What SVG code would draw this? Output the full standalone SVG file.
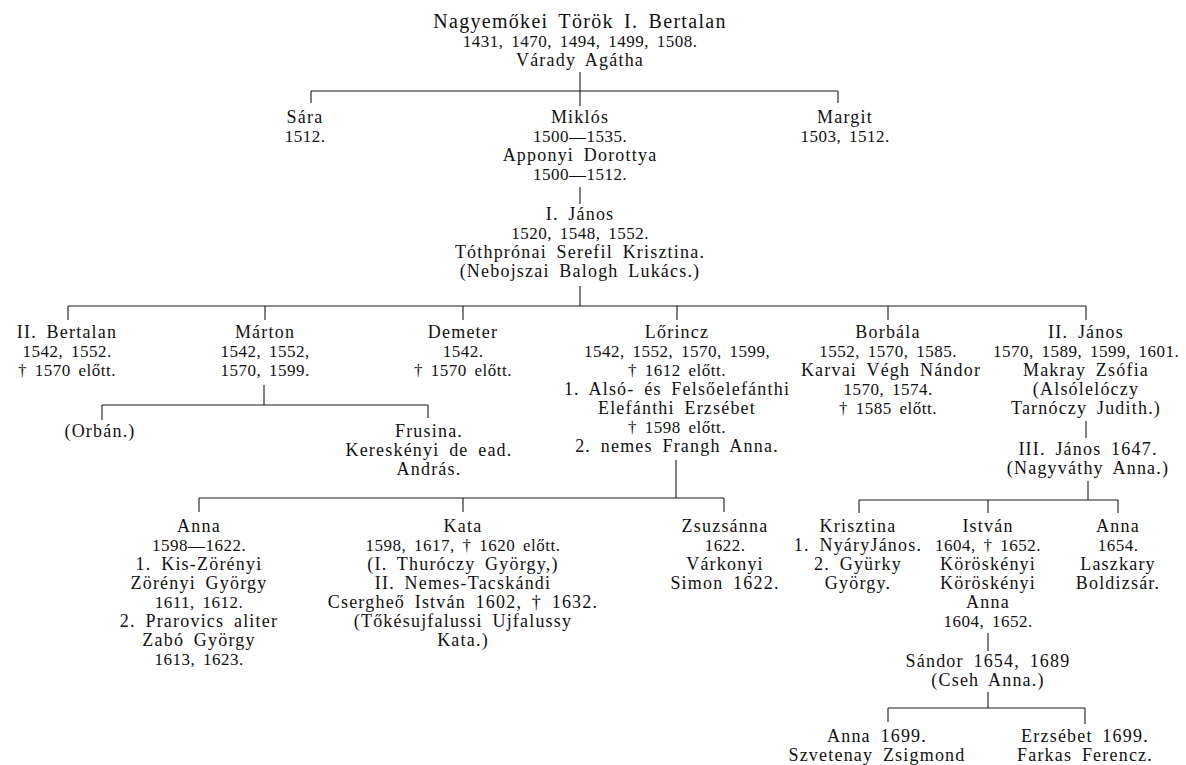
<svg xmlns="http://www.w3.org/2000/svg" width="1186" height="765" viewBox="0 0 1186 765">
<style>
text{font-family:"Liberation Serif","Times New Roman",serif;font-size:18px;fill:#111;text-anchor:middle;letter-spacing:1.2px;word-spacing:4px}
text.y{font-size:17px;letter-spacing:0.5px;word-spacing:3px}
text.t{font-size:20px;letter-spacing:1.3px;word-spacing:4px}
.c path{stroke:#1a1a1a;stroke-width:1.1;fill:none}
</style>
<rect width="1186" height="765" fill="#fff"/>
<g class="c" id="connectors">
<path d="M580,72V91M311,91H838M311,91V103M580,91V106M838,91V103"/>
<path d="M580,187V204"/>
<path d="M580,286V306M68,306H1086M68,306V320M265,306V320M463,306V320M677,306V320M888,306V320M1086,306V320"/>
<path d="M264,385V405M102,405H428M102,405V420M428,405V418"/>
<path d="M676,460V498M199,498H724M199,498V512M463,498V512M724,498V512"/>
<path d="M1086,421V438"/>
<path d="M1088,481V500M859,500H1118M859,500V513M988,500V513M1118,500V513"/>
<path d="M988,633V651"/>
<path d="M988,692V708M888,708H1085M888,708V722M1085,708V724"/>
</g>
<g id="bertalan1">
<text class="t" x="580" y="28">Nagyemőkei Török I. Bertalan</text>
<text class="y" x="580" y="47">1431, 1470, 1494, 1499, 1508.</text>
<text x="580" y="66">Várady Agátha</text>
</g>
<g id="sara"><text x="305" y="123">Sára</text><text class="y" x="305" y="142">1512.</text></g>
<g id="miklos">
<text x="580" y="123">Miklós</text>
<text class="y" x="580" y="142">1500—1535.</text>
<text x="580" y="161">Apponyi Dorottya</text>
<text class="y" x="580" y="180">1500—1512.</text>
</g>
<g id="margit"><text x="845" y="123">Margit</text><text class="y" x="845" y="142">1503, 1512.</text></g>
<g id="janos1">
<text x="580" y="220">I. János</text>
<text class="y" x="580" y="239">1520, 1548, 1552.</text>
<text x="580" y="258">Tóthprónai Serefil Krisztina.</text>
<text x="580" y="277">(Nebojszai Balogh Lukács.)</text>
</g>
<g id="bertalan2">
<text x="67" y="338">II. Bertalan</text>
<text class="y" x="67" y="357">1542, 1552.</text>
<text class="y" x="67" y="376">† 1570 előtt.</text>
</g>
<g id="marton">
<text x="265" y="338">Márton</text>
<text class="y" x="265" y="357">1542, 1552,</text>
<text class="y" x="265" y="376">1570, 1599.</text>
</g>
<g id="demeter">
<text x="463" y="338">Demeter</text>
<text class="y" x="463" y="357">1542.</text>
<text class="y" x="463" y="376">† 1570 előtt.</text>
</g>
<g id="lorincz">
<text x="677" y="338">Lőrincz</text>
<text class="y" x="677" y="357">1542, 1552, 1570, 1599,</text>
<text class="y" x="677" y="376">† 1612 előtt.</text>
<text x="677" y="395">1. Alsó- és Felsőelefánthi</text>
<text x="677" y="414">Elefánthi Erzsébet</text>
<text class="y" x="677" y="433">† 1598 előtt.</text>
<text x="677" y="452">2. nemes Frangh Anna.</text>
</g>
<g id="borbala">
<text x="888" y="338">Borbála</text>
<text class="y" x="888" y="357">1552, 1570, 1585.</text>
<text x="891" y="376">Karvai Végh Nándor</text>
<text class="y" x="888" y="395">1570, 1574.</text>
<text class="y" x="888" y="414">† 1585 előtt.</text>
</g>
<g id="janos2">
<text x="1086" y="338">II. János</text>
<text class="y" x="1086" y="357">1570, 1589, 1599, 1601.</text>
<text x="1086" y="376">Makray Zsófia</text>
<text x="1086" y="395">(Alsólelóczy</text>
<text x="1086" y="414">Tarnóczy Judith.)</text>
<text x="1088" y="455">III. János 1647.</text>
<text x="1088" y="474">(Nagyváthy Anna.)</text>
</g>
<g id="orban"><text x="100" y="437">(Orbán.)</text></g>
<g id="frusina">
<text x="429" y="437">Frusina.</text>
<text x="429" y="456">Kereskényi de ead.</text>
<text x="429" y="475">András.</text>
</g>
<g id="anna1">
<text x="199" y="532">Anna</text>
<text class="y" x="199" y="551">1598—1622.</text>
<text x="199" y="570">1. Kis-Zörényi</text>
<text x="199" y="589">Zörényi György</text>
<text class="y" x="199" y="608">1611, 1612.</text>
<text x="199" y="627">2. Prarovics aliter</text>
<text x="199" y="646">Zabó György</text>
<text class="y" x="199" y="665">1613, 1623.</text>
</g>
<g id="kata">
<text x="463" y="532">Kata</text>
<text class="y" x="463" y="551">1598, 1617, † 1620 előtt.</text>
<text x="463" y="570">(I. Thuróczy György,)</text>
<text x="463" y="589">II. Nemes-Tacskándi</text>
<text x="463" y="608">Csergheő István 1602, † 1632.</text>
<text x="463" y="627">(Tőkésujfalussi Ujfalussy</text>
<text x="463" y="646">Kata.)</text>
</g>
<g id="zsuzsanna">
<text x="725" y="532">Zsuzsánna</text>
<text class="y" x="725" y="551">1622.</text>
<text x="725" y="570">Várkonyi</text>
<text x="725" y="589">Simon 1622.</text>
</g>
<g id="krisztina">
<text x="858" y="532">Krisztina</text>
<text x="858" y="551">1. NyáryJános.</text>
<text x="858" y="570">2. Gyürky</text>
<text x="858" y="589">György.</text>
</g>
<g id="istvan">
<text x="988" y="532">István</text>
<text class="y" x="988" y="551">1604, † 1652.</text>
<text x="988" y="570">Köröskényi</text>
<text x="988" y="589">Köröskényi</text>
<text x="988" y="608">Anna</text>
<text class="y" x="988" y="627">1604, 1652.</text>
<text x="988" y="667">Sándor 1654, 1689</text>
<text x="988" y="686">(Cseh Anna.)</text>
</g>
<g id="anna2">
<text x="1118" y="532">Anna</text>
<text class="y" x="1118" y="551">1654.</text>
<text x="1118" y="570">Laszkary</text>
<text x="1118" y="589">Boldizsár.</text>
</g>
<g id="anna3"><text x="877" y="742">Anna 1699.</text><text x="877" y="761">Szvetenay Zsigmond</text></g>
<g id="erzsebet"><text x="1085" y="742">Erzsébet 1699.</text><text x="1085" y="761">Farkas Ferencz.</text></g>
</svg>
